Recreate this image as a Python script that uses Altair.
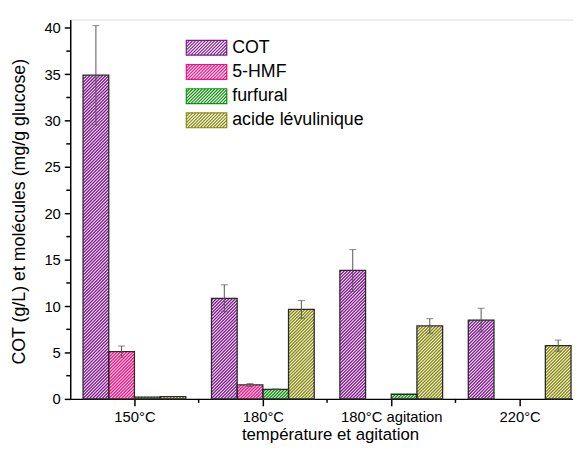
import altair as alt
import pandas as pd

# ---------------- data ----------------
categories = ["150°C", "180°C", "180°C agitation", "220°C"]
series = ["COT", "5-HMF", "furfural", "acide lévulinique"]
cot = [34.9, 10.85, 13.85, 8.5]
cot_err = [5.35, 1.45, 2.25, 1.27]
hmf = [5.1, 1.5, 0.0, 0.0]
hmf_err = [0.6, 0.15, 0.0, 0.0]
furfural = [0.2, 1.03, 0.5, 0.0]
furfural_err = [0.0, 0.05, 0.0, 0.0]
levulinique = [0.25, 9.65, 7.87, 5.74]
levulinique_err = [0.0, 0.95, 0.78, 0.6]
y_ticks = [0, 5, 10, 15, 20, 25, 30, 35, 40]
y_minor = [2.5, 7.5, 12.5, 17.5, 22.5, 27.5, 32.5, 37.5]
x_minor = [1.5, 2.5, 3.5]

colors = ["#801a90", "#ff0a80", "#109010", "#8a8a10"]

# ---------------- layout ----------------
W, H = 509, 384
XMIN = 0.5
XMAX = XMIN + W / 130.0
YMAX = 40.9
PX_X = W / (XMAX - XMIN)
PX_Y = H / YMAX
BAR = 0.2
PERIOD = 3.2  # hatch period in px
HATCH_W = 1.4

vals = [cot, hmf, furfural, levulinique]
errs = [cot_err, hmf_err, furfural_err, levulinique_err]

rows = []
for i, cat in enumerate(categories):
    g = i + 1
    for k, s in enumerate(series):
        x0 = g - 2 * BAR + BAR * k
        rows.append(dict(cat=cat, series=s, x0=x0, x1=x0 + BAR, xc=x0 + BAR / 2,
                         v=vals[k][i], e=errs[k][i],
                         lo=vals[k][i] - errs[k][i], hi=vals[k][i] + errs[k][i]))
bars = pd.DataFrame(rows)
bars_nz = bars[bars.v > 0]
err_df = bars[bars.e > 0]

# hatching segments derived from each bar
hrows = []
for r in bars_nz.itertuples():
    bw = BAR * PX_X
    bh = r.v * PX_Y
    c = -bw + 0.8
    while c < bh:
        xs = max(0.0, -c)
        xe = min(bw, bh - c)
        if xe - xs > 0.3:
            hrows.append(dict(series=r.series,
                              x=r.x0 + xs / PX_X, y=(xs + c) / PX_Y,
                              x2=r.x0 + xe / PX_X, y2=(xe + c) / PX_Y))
        c += PERIOD
hatch_df = pd.DataFrame(hrows)

# legend swatch: rectangle with diagonal hatching (custom symbol path)
SW, SH = 41.0, 15.0
sc = SH / 2            # px per path unit
hw = (SW / 2) / sc     # half width in path units
hh = 1.0               # half height in path units
parts = [f"M{-hw:.3f},{-hh:.3f}L{hw:.3f},{-hh:.3f}L{hw:.3f},{hh:.3f}L{-hw:.3f},{hh:.3f}Z"]
p = PERIOD / sc
c = -hw - 2 * hh + 0.05
while c < hw:
    xs = max(-hw, c)
    xe = min(hw, c + 2 * hh)
    if xe - xs > 0.02:
        ys = hh - (xs - c)
        ye = hh - (xe - c)
        parts.append(f"M{xs:.3f},{ys:.3f}L{xe:.3f},{ye:.3f}")
    c += p
swatch = "".join(parts)

FONT = "Arial"
xscale = alt.Scale(domain=[XMIN, XMAX], nice=False, zero=False)
yscale = alt.Scale(domain=[0, YMAX], nice=False)

label_expr = "[" + ",".join("'" + c + "'" for c in categories) + "][datum.value - 1]"

x_axis = alt.Axis(values=[1, 2, 3, 4], labelExpr=label_expr, title="température et agitation",
                  grid=False, domainColor="black", domainWidth=1.5, tickColor="black",
                  tickWidth=1.5, tickSize=7, labelFontSize=15, labelColor="black",
                  labelPadding=4, labelFont=FONT, titleFont=FONT, titleFontSize=17,
                  titleFontWeight="normal", titleColor="black", titleX=263, titleY=41,
                  titleBaseline="alphabetic", titleAlign="center")
y_axis = alt.Axis(values=y_ticks, title="COT (g/L) et molécules (mg/g glucose)",
                  grid=False, domainColor="black", domainWidth=1.5, tickColor="black",
                  tickWidth=1.5, tickSize=6, labelFontSize=15, labelColor="black",
                  labelPadding=4, labelFont=FONT, titleFont=FONT, titleFontSize=18,
                  titleFontWeight="normal", titleColor="black", titleX=-46, titleY=H / 2 + 2,
                  titleAngle=-90, titleBaseline="alphabetic", titleAlign="center")

hatch = alt.Chart(hatch_df).mark_rule(strokeWidth=HATCH_W).encode(
    x=alt.X("x:Q", scale=xscale, axis=x_axis),
    y=alt.Y("y:Q", scale=yscale, axis=y_axis),
    x2="x2:Q", y2="y2:Q",
    color=alt.Color("series:N", scale=alt.Scale(domain=series, range=colors),
                    legend=alt.Legend(title=None, orient="none", legendX=129, legendY=19.5,
                                      symbolType=swatch, symbolSize=SH * SH,
                                      symbolStrokeWidth=1.2, symbolFillColor="transparent",
                                      labelFont=FONT, labelFontSize=18, labelColor="black",
                                      labelOffset=17, rowPadding=4.5, padding=0,
                                      labelLimit=300)),
)

outline = alt.Chart(bars_nz).mark_rect(fill="transparent", stroke="#2a2a2a", strokeWidth=1.3).encode(
    x=alt.X("x0:Q", scale=xscale), x2="x1:Q",
    y=alt.Y("v:Q", scale=yscale), y2=alt.datum(0),
)

err_rule = alt.Chart(err_df).mark_rule(color="#555555", strokeWidth=1).encode(
    x=alt.X("xc:Q", scale=xscale), y=alt.Y("lo:Q", scale=yscale), y2="hi:Q")
cap_hi = alt.Chart(err_df).mark_tick(color="#555555", thickness=1, size=7, orient="horizontal").encode(
    x=alt.X("xc:Q", scale=xscale), y=alt.Y("hi:Q", scale=yscale))
cap_lo = alt.Chart(err_df).mark_tick(color="#555555", thickness=1, size=7, orient="horizontal").encode(
    x=alt.X("xc:Q", scale=xscale), y=alt.Y("lo:Q", scale=yscale))

ymin_df = pd.DataFrame({"t": y_minor})
ymin_ticks = alt.Chart(ymin_df).mark_rule(color="black", strokeWidth=1.5).encode(
    y=alt.Y("t:Q", scale=yscale), x=alt.value(-4), x2=alt.value(0))
xmin_df = pd.DataFrame({"t": x_minor})
xmin_ticks = alt.Chart(xmin_df).mark_rule(color="black", strokeWidth=1.5).encode(
    x=alt.X("t:Q", scale=xscale), y=alt.value(H), y2=alt.value(H + 4))

chart = alt.layer(hatch, outline, err_rule, cap_hi, cap_lo, ymin_ticks, xmin_ticks).properties(
    width=W, height=H,
    autosize=alt.AutoSizeParams(type="none"),
    padding={"left": 63, "top": 9, "right": 0, "bottom": 48},
).configure_view(stroke=None).configure(background="white")

chart.save("out.html", embed_options={"renderer": "svg", "actions": False})
